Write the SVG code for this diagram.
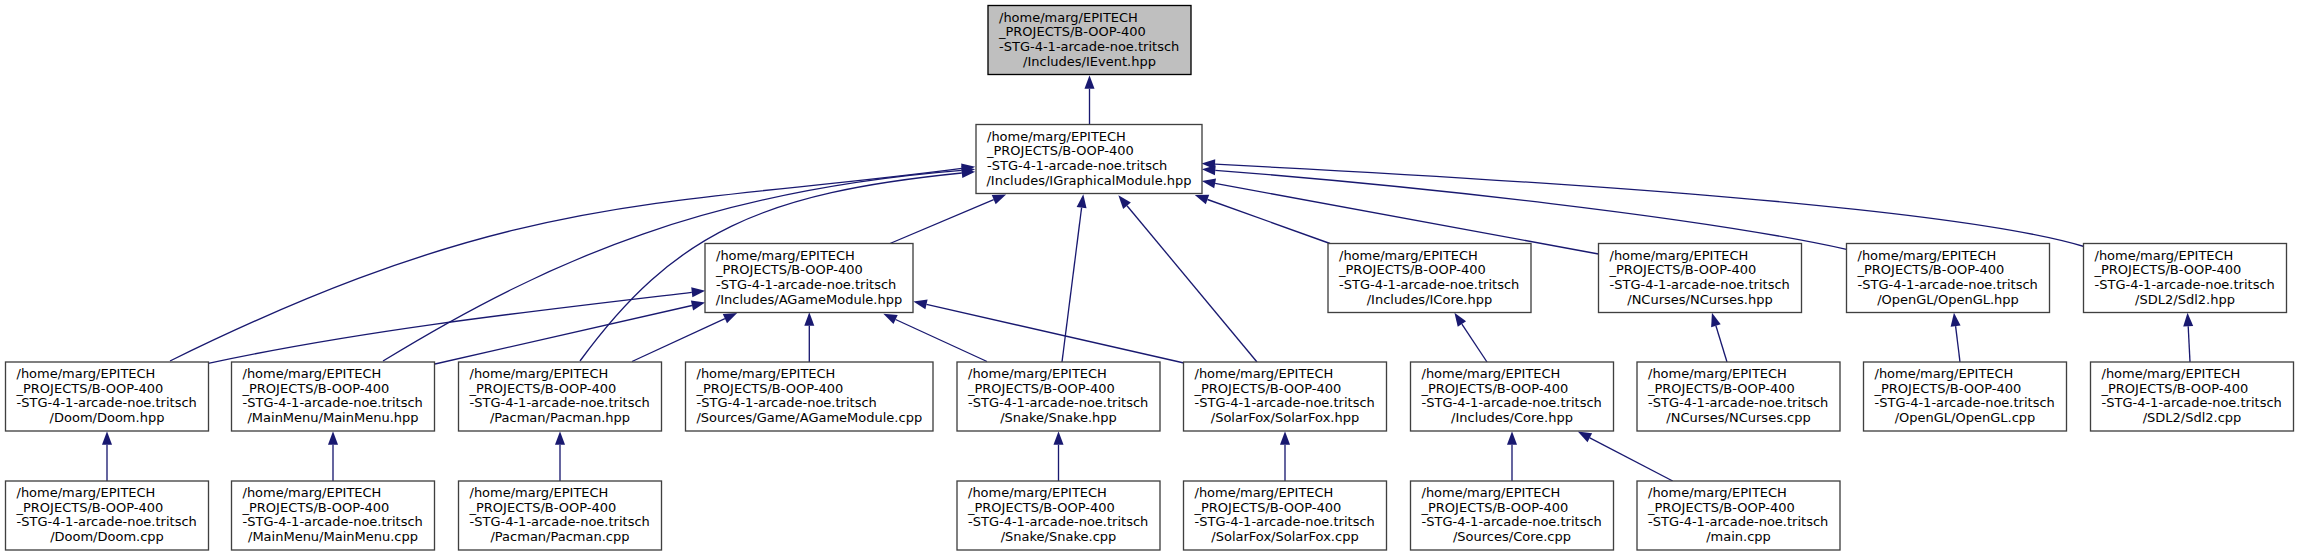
<svg xmlns="http://www.w3.org/2000/svg" width="2299" height="556" viewBox="0 0 2299 556">
<style>
.n rect{fill:#ffffff;stroke:#404040;stroke-width:1.33}
.root rect{fill:#bfbfbf;stroke:#000000}
.n text{font-family:"DejaVu Sans","Liberation Sans",sans-serif;font-size:13px;fill:#000000}
.c{text-anchor:middle}
.e path{fill:none;stroke:#191970;stroke-width:1.33;marker-end:url(#arr)}
</style>
<defs>
<marker id="arr" markerUnits="userSpaceOnUse" markerWidth="15" markerHeight="12" refX="0" refY="5" orient="auto" overflow="visible">
<path d="M0,0 L13.5,5 L0,10 z" fill="#191970"/>
</marker>
</defs>
<rect width="2299" height="556" fill="#ffffff"/>
<g class="e" id="edges">
<path d="M1089.5,124.5 L1089.5,88.8"/>
<path d="M107,481 L107,444.8"/>
<path d="M333,481 L333,444.8"/>
<path d="M560,481 L560,444.8"/>
<path d="M1058.5,481 L1058.5,444.8"/>
<path d="M1285,481 L1285,444.8"/>
<path d="M1512,481 L1512,444.8"/>
<path d="M1672.7,481 L1589.8,437.8"/>
<path d="M809.3,362 L809.3,325.8"/>
<path d="M632,361.5 L724.9,318.6"/>
<path d="M987,361.5 L895.6,319.5"/>
<path d="M1184,363 L926.5,304.4"/>
<path d="M890,243.5 L993.7,199.7"/>
<path d="M1062,362 L1081.6,207.7"/>
<path d="M1257,362 L1127,205.7"/>
<path d="M1330,243.5 L1207.5,199.5"/>
<path d="M1487,362 L1461.9,324.1"/>
<path d="M1727,362 L1715.9,325.7"/>
<path d="M1960,362 L1955.6,326.2"/>
<path d="M2190,362 L2188.2,326.3"/>
<path d="M1598.5,254 L1215.1,183.4"/>
<path d="M435,364 L692,305.5"/>
<path d="M208.3,363.3 C364.8,329.7 532.9,311 691.8,292.3"/>
<path d="M170,361 C519.8,188.6 664.4,207.5 961.8,168.4"/>
<path d="M383,361 C553.6,256.6 712.5,190.4 961.7,170.4"/>
<path d="M580,361 C674.4,231.9 762.8,193 961.8,173"/>
<path d="M2084,246.5 C1940.3,203.3 1464.5,176.9 1215,164.2"/>
<path d="M1846.5,249.3 C1700,217 1414.7,185.9 1215.3,170.3"/>
</g>
<g class="n root" id="IEvent_hpp"><rect x="988" y="5.5" width="203" height="69"/><text><tspan x="999" y="21.5">/home/marg/EPITECH</tspan><tspan x="999" y="36.2">_PROJECTS/B-OOP-400</tspan><tspan x="999" y="50.8">-STG-4-1-arcade-noe.tritsch</tspan><tspan class="c" x="1089.5" y="65.5">/Includes/IEvent.hpp</tspan></text></g>
<g class="n" id="IGraphicalModule_hpp"><rect x="976" y="124.5" width="226" height="69"/><text><tspan x="987" y="140.5">/home/marg/EPITECH</tspan><tspan x="987" y="155.2">_PROJECTS/B-OOP-400</tspan><tspan x="987" y="169.8">-STG-4-1-arcade-noe.tritsch</tspan><tspan class="c" x="1089" y="184.5">/Includes/IGraphicalModule.hpp</tspan></text></g>
<g class="n" id="AGameModule_hpp"><rect x="705" y="243.5" width="208" height="69"/><text><tspan x="716" y="259.5">/home/marg/EPITECH</tspan><tspan x="716" y="274.2">_PROJECTS/B-OOP-400</tspan><tspan x="716" y="288.8">-STG-4-1-arcade-noe.tritsch</tspan><tspan class="c" x="809" y="303.5">/Includes/AGameModule.hpp</tspan></text></g>
<g class="n" id="ICore_hpp"><rect x="1328" y="243.5" width="203" height="69"/><text><tspan x="1339" y="259.5">/home/marg/EPITECH</tspan><tspan x="1339" y="274.2">_PROJECTS/B-OOP-400</tspan><tspan x="1339" y="288.8">-STG-4-1-arcade-noe.tritsch</tspan><tspan class="c" x="1429.5" y="303.5">/Includes/ICore.hpp</tspan></text></g>
<g class="n" id="NCurses_hpp"><rect x="1598.5" y="243.5" width="203" height="69"/><text><tspan x="1609.5" y="259.5">/home/marg/EPITECH</tspan><tspan x="1609.5" y="274.2">_PROJECTS/B-OOP-400</tspan><tspan x="1609.5" y="288.8">-STG-4-1-arcade-noe.tritsch</tspan><tspan class="c" x="1700" y="303.5">/NCurses/NCurses.hpp</tspan></text></g>
<g class="n" id="OpenGL_hpp"><rect x="1846.5" y="243.5" width="203" height="69"/><text><tspan x="1857.5" y="259.5">/home/marg/EPITECH</tspan><tspan x="1857.5" y="274.2">_PROJECTS/B-OOP-400</tspan><tspan x="1857.5" y="288.8">-STG-4-1-arcade-noe.tritsch</tspan><tspan class="c" x="1948" y="303.5">/OpenGL/OpenGL.hpp</tspan></text></g>
<g class="n" id="Sdl2_hpp"><rect x="2083.5" y="243.5" width="203" height="69"/><text><tspan x="2094.5" y="259.5">/home/marg/EPITECH</tspan><tspan x="2094.5" y="274.2">_PROJECTS/B-OOP-400</tspan><tspan x="2094.5" y="288.8">-STG-4-1-arcade-noe.tritsch</tspan><tspan class="c" x="2185" y="303.5">/SDL2/Sdl2.hpp</tspan></text></g>
<g class="n" id="Doom_hpp"><rect x="5.5" y="362" width="203" height="69"/><text><tspan x="16.5" y="378">/home/marg/EPITECH</tspan><tspan x="16.5" y="392.7">_PROJECTS/B-OOP-400</tspan><tspan x="16.5" y="407.3">-STG-4-1-arcade-noe.tritsch</tspan><tspan class="c" x="107" y="422">/Doom/Doom.hpp</tspan></text></g>
<g class="n" id="MainMenu_hpp"><rect x="231.5" y="362" width="203" height="69"/><text><tspan x="242.5" y="378">/home/marg/EPITECH</tspan><tspan x="242.5" y="392.7">_PROJECTS/B-OOP-400</tspan><tspan x="242.5" y="407.3">-STG-4-1-arcade-noe.tritsch</tspan><tspan class="c" x="333" y="422">/MainMenu/MainMenu.hpp</tspan></text></g>
<g class="n" id="Pacman_hpp"><rect x="458.5" y="362" width="203" height="69"/><text><tspan x="469.5" y="378">/home/marg/EPITECH</tspan><tspan x="469.5" y="392.7">_PROJECTS/B-OOP-400</tspan><tspan x="469.5" y="407.3">-STG-4-1-arcade-noe.tritsch</tspan><tspan class="c" x="560" y="422">/Pacman/Pacman.hpp</tspan></text></g>
<g class="n" id="AGameModule_cpp"><rect x="685.5" y="362" width="247.5" height="69"/><text><tspan x="696.5" y="378">/home/marg/EPITECH</tspan><tspan x="696.5" y="392.7">_PROJECTS/B-OOP-400</tspan><tspan x="696.5" y="407.3">-STG-4-1-arcade-noe.tritsch</tspan><tspan class="c" x="809.3" y="422">/Sources/Game/AGameModule.cpp</tspan></text></g>
<g class="n" id="Snake_hpp"><rect x="957" y="362" width="203" height="69"/><text><tspan x="968" y="378">/home/marg/EPITECH</tspan><tspan x="968" y="392.7">_PROJECTS/B-OOP-400</tspan><tspan x="968" y="407.3">-STG-4-1-arcade-noe.tritsch</tspan><tspan class="c" x="1058.5" y="422">/Snake/Snake.hpp</tspan></text></g>
<g class="n" id="SolarFox_hpp"><rect x="1183.5" y="362" width="203" height="69"/><text><tspan x="1194.5" y="378">/home/marg/EPITECH</tspan><tspan x="1194.5" y="392.7">_PROJECTS/B-OOP-400</tspan><tspan x="1194.5" y="407.3">-STG-4-1-arcade-noe.tritsch</tspan><tspan class="c" x="1285" y="422">/SolarFox/SolarFox.hpp</tspan></text></g>
<g class="n" id="Core_hpp"><rect x="1410.5" y="362" width="203" height="69"/><text><tspan x="1421.5" y="378">/home/marg/EPITECH</tspan><tspan x="1421.5" y="392.7">_PROJECTS/B-OOP-400</tspan><tspan x="1421.5" y="407.3">-STG-4-1-arcade-noe.tritsch</tspan><tspan class="c" x="1512" y="422">/Includes/Core.hpp</tspan></text></g>
<g class="n" id="NCurses_cpp"><rect x="1637" y="362" width="203" height="69"/><text><tspan x="1648" y="378">/home/marg/EPITECH</tspan><tspan x="1648" y="392.7">_PROJECTS/B-OOP-400</tspan><tspan x="1648" y="407.3">-STG-4-1-arcade-noe.tritsch</tspan><tspan class="c" x="1738.5" y="422">/NCurses/NCurses.cpp</tspan></text></g>
<g class="n" id="OpenGL_cpp"><rect x="1863.5" y="362" width="203" height="69"/><text><tspan x="1874.5" y="378">/home/marg/EPITECH</tspan><tspan x="1874.5" y="392.7">_PROJECTS/B-OOP-400</tspan><tspan x="1874.5" y="407.3">-STG-4-1-arcade-noe.tritsch</tspan><tspan class="c" x="1965" y="422">/OpenGL/OpenGL.cpp</tspan></text></g>
<g class="n" id="Sdl2_cpp"><rect x="2090.5" y="362" width="203" height="69"/><text><tspan x="2101.5" y="378">/home/marg/EPITECH</tspan><tspan x="2101.5" y="392.7">_PROJECTS/B-OOP-400</tspan><tspan x="2101.5" y="407.3">-STG-4-1-arcade-noe.tritsch</tspan><tspan class="c" x="2192" y="422">/SDL2/Sdl2.cpp</tspan></text></g>
<g class="n" id="Doom_cpp"><rect x="5.5" y="481" width="203" height="69"/><text><tspan x="16.5" y="497">/home/marg/EPITECH</tspan><tspan x="16.5" y="511.7">_PROJECTS/B-OOP-400</tspan><tspan x="16.5" y="526.3">-STG-4-1-arcade-noe.tritsch</tspan><tspan class="c" x="107" y="541">/Doom/Doom.cpp</tspan></text></g>
<g class="n" id="MainMenu_cpp"><rect x="231.5" y="481" width="203" height="69"/><text><tspan x="242.5" y="497">/home/marg/EPITECH</tspan><tspan x="242.5" y="511.7">_PROJECTS/B-OOP-400</tspan><tspan x="242.5" y="526.3">-STG-4-1-arcade-noe.tritsch</tspan><tspan class="c" x="333" y="541">/MainMenu/MainMenu.cpp</tspan></text></g>
<g class="n" id="Pacman_cpp"><rect x="458.5" y="481" width="203" height="69"/><text><tspan x="469.5" y="497">/home/marg/EPITECH</tspan><tspan x="469.5" y="511.7">_PROJECTS/B-OOP-400</tspan><tspan x="469.5" y="526.3">-STG-4-1-arcade-noe.tritsch</tspan><tspan class="c" x="560" y="541">/Pacman/Pacman.cpp</tspan></text></g>
<g class="n" id="Snake_cpp"><rect x="957" y="481" width="203" height="69"/><text><tspan x="968" y="497">/home/marg/EPITECH</tspan><tspan x="968" y="511.7">_PROJECTS/B-OOP-400</tspan><tspan x="968" y="526.3">-STG-4-1-arcade-noe.tritsch</tspan><tspan class="c" x="1058.5" y="541">/Snake/Snake.cpp</tspan></text></g>
<g class="n" id="SolarFox_cpp"><rect x="1183.5" y="481" width="203" height="69"/><text><tspan x="1194.5" y="497">/home/marg/EPITECH</tspan><tspan x="1194.5" y="511.7">_PROJECTS/B-OOP-400</tspan><tspan x="1194.5" y="526.3">-STG-4-1-arcade-noe.tritsch</tspan><tspan class="c" x="1285" y="541">/SolarFox/SolarFox.cpp</tspan></text></g>
<g class="n" id="Core_cpp"><rect x="1410.5" y="481" width="203" height="69"/><text><tspan x="1421.5" y="497">/home/marg/EPITECH</tspan><tspan x="1421.5" y="511.7">_PROJECTS/B-OOP-400</tspan><tspan x="1421.5" y="526.3">-STG-4-1-arcade-noe.tritsch</tspan><tspan class="c" x="1512" y="541">/Sources/Core.cpp</tspan></text></g>
<g class="n" id="main_cpp"><rect x="1637" y="481" width="203" height="69"/><text><tspan x="1648" y="497">/home/marg/EPITECH</tspan><tspan x="1648" y="511.7">_PROJECTS/B-OOP-400</tspan><tspan x="1648" y="526.3">-STG-4-1-arcade-noe.tritsch</tspan><tspan class="c" x="1738.5" y="541">/main.cpp</tspan></text></g>
</svg>
